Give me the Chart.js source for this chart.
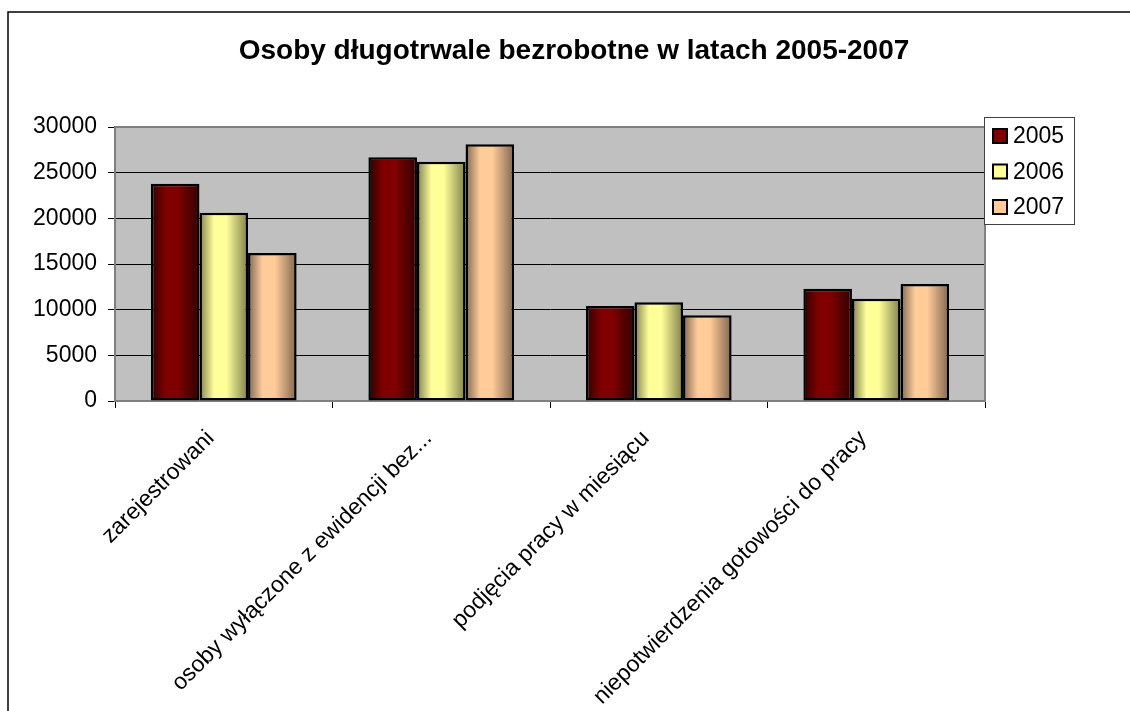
<!DOCTYPE html>
<html>
<head>
<meta charset="utf-8">
<script src="https://cdn.jsdelivr.net/npm/chart.js@4.4.0/dist/chart.umd.min.js"></script>
<style>
  body { margin: 0; background: #fff; }
  #wrap { width: 1130px; height: 711px; }
</style>
</head>
<body>
<div id="wrap"><canvas id="chart" width="1130" height="711"></canvas></div>
<script>
const chartTitle = "Osoby długotrwale bezrobotne w latach 2005-2007";
const categories = [
    "zarejestrowani",
    "osoby wyłączone z ewidencji bez...",
    "podjęcia pracy w miesiącu",
    "niepotwierdzenia gotowości do pracy"
];
const years = ["2005", "2006", "2007"];
const values2005 = [23800, 26700, 10400, 12300];
const values2006 = [20600, 26200, 10800, 11200];
const values2007 = [16200, 28100, 9400, 12800];
const yTicks = [0, 5000, 10000, 15000, 20000, 25000, 30000];

const baseColors = ["#800000", "#ffff99", "#ffcc99"];
const shadeColors = ["#2e0000", "#80804e", "#806650"];
const fontFamily = '"Liberation Sans", Arial, sans-serif';

Chart.defaults.font.family = fontFamily;

// background, gradient bars, title, legend, outer frame
const chartDecor = {
    id: 'chartDecor',
    beforeDraw(chart) {
        const { ctx, chartArea: a } = chart;
        ctx.save();
        ctx.fillStyle = '#c0c0c0';
        ctx.fillRect(a.left, a.top, a.right - a.left, a.bottom - a.top);
        ctx.restore();
    },
    beforeDatasetsDraw(chart) {
        const { ctx, chartArea: a } = chart;
        ctx.save();
        ctx.strokeStyle = '#808080';
        ctx.lineWidth = 2;
        ctx.strokeRect(a.left, a.top, a.right - a.left, a.bottom - a.top);
        ctx.restore();

        chart.data.datasets.forEach((ds, di) => {
            chart.getDatasetMeta(di).data.forEach(bar => {
                const l = bar.x - bar.width / 2;
                const r = bar.x + bar.width / 2;
                const g = ctx.createLinearGradient(l, 0, r, 0);
                g.addColorStop(0, shadeColors[di]);
                g.addColorStop(0.3, baseColors[di]);
                g.addColorStop(0.55, baseColors[di]);
                g.addColorStop(1, shadeColors[di]);
                bar.options.backgroundColor = g;
            });
        });
    },
    afterDraw(chart) {
        const { ctx, chartArea: a } = chart;
        ctx.save();

        // title
        ctx.fillStyle = '#000';
        ctx.font = 'bold 28px ' + fontFamily;
        ctx.textAlign = 'center';
        ctx.textBaseline = 'middle';
        ctx.fillText(chartTitle, 574, 51);

        // legend
        const bx = a.right - 1, by = a.top - 10, bw = 90, bh = 107;
        ctx.fillStyle = '#fff';
        ctx.fillRect(bx, by, bw, bh);
        ctx.strokeStyle = '#404040';
        ctx.lineWidth = 1;
        ctx.strokeRect(bx + 0.5, by + 0.5, bw, bh);
        ctx.font = '23px ' + fontFamily;
        ctx.textAlign = 'left';
        chart.data.datasets.forEach((ds, i) => {
            const cy = by + 19 + i * 35.5;
            ctx.fillStyle = baseColors[i];
            ctx.fillRect(bx + 9, cy - 7, 14, 14);
            ctx.strokeStyle = '#000';
            ctx.lineWidth = 2;
            ctx.strokeRect(bx + 9, cy - 7, 14, 14);
            ctx.fillStyle = '#000';
            ctx.fillText(ds.label, bx + 29, cy + 1);
        });

        // outer frame
        ctx.strokeStyle = '#000';
        ctx.lineWidth = 1.5;
        ctx.beginPath();
        ctx.moveTo(8, 711);
        ctx.lineTo(8, 12);
        ctx.lineTo(1130, 12);
        ctx.stroke();
        ctx.restore();
    }
};

const ctx = document.getElementById("chart").getContext("2d");

new Chart(ctx, {
    type: 'bar',
    data: {
        labels: categories,
        datasets: [
            { label: years[0], data: values2005 },
            { label: years[1], data: values2006 },
            { label: years[2], data: values2007 }
        ].map((d, i) => ({
            ...d,
            backgroundColor: () => baseColors[i],
            borderColor: '#000',
            borderWidth: 2.5,
            borderSkipped: false,
            categoryPercentage: 0.67,
            barPercentage: 1.0
        }))
    },
    options: {
        responsive: false,
        animation: false,
        devicePixelRatio: 1,
        layout: {
            padding: { left: 0, top: 127, right: 145, bottom: 0 }
        },
        plugins: {
            legend: { display: false },
            title: { display: false },
            tooltip: { enabled: false }
        },
        scales: {
            x: {
                ticks: {
                    color: '#000',
                    font: { size: 23 },
                    minRotation: 45,
                    maxRotation: 45,
                    autoSkip: false,
                    padding: 17,
                    labelOffset: -13
                },
                grid: {
                    drawOnChartArea: false,
                    drawTicks: true,
                    tickLength: 7,
                    color: '#000',
                    offset: true
                },
                border: { color: '#404040', width: 2 },
                afterFit: axis => { axis.height = 310; }
            },
            y: {
                min: 0,
                max: 30000,
                afterBuildTicks: axis => {
                    axis.ticks = yTicks.map(v => ({ value: v }));
                },
                ticks: {
                    color: '#000',
                    font: { size: 23 },
                    padding: 11,
                    callback: v => String(v)
                },
                grid: {
                    color: '#000',
                    lineWidth: 1,
                    tickLength: 7
                },
                border: { color: '#808080', width: 2 },
                afterFit: axis => { axis.width = 115; }
            }
        }
    },
    plugins: [chartDecor]
});
</script>
</body>
</html>
